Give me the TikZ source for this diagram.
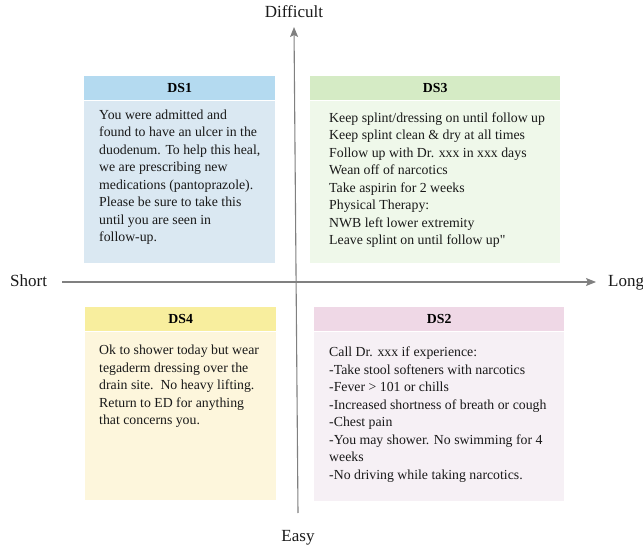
\documentclass[tikz,border=0pt]{standalone}
\usepackage{fontspec}
\setmainfont{Liberation Serif}
\usetikzlibrary{calc}
\usetikzlibrary{arrows.meta}
\definecolor{blueHead}{HTML}{B4DAF0}
\definecolor{blueBody}{HTML}{DAE8F2}
\definecolor{greenHead}{HTML}{D5EBC5}
\definecolor{greenBody}{HTML}{EFF8EA}
\definecolor{yellowHead}{HTML}{F8EE9E}
\definecolor{yellowBody}{HTML}{FDF6DC}
\definecolor{pinkHead}{HTML}{EFD8E6}
\definecolor{pinkBody}{HTML}{F6F0F5}
\definecolor{axisGray}{HTML}{808080}
\newcommand{\Tx}{\fontsize{13.8}{17.5}\selectfont}
\newcommand{\Sq}{{\addfontfeatures{Ligatures=TeXOff}"}}
\tikzset{
  axis/.style={line width=1.1pt, axisGray, -{Stealth[length=10pt,width=8pt,inset=2pt]}},
  axislabel/.style={inner sep=0pt, font=\fontsize{17}{20}\selectfont, text=black!90},
  dshead/.style={anchor=north west, inner sep=0pt, minimum height=24pt, font=\Tx\bfseries, text=black},
  dsbody/.style={anchor=north west, inner sep=0pt},
  dstext/.style={anchor=north west, inner sep=0pt, align=left, font=\Tx, text=black!90},
}

\begin{document}
\begin{tikzpicture}[x=1pt,y=-1pt]
\useasboundingbox (0,0) rectangle (643,548);

%%%%%%%%%%%%%%%%%%%%%%%%%%%%%%%%%%%%%%%%%%%%%%%%%%%%%%%%%%%%%% axes
\coordinate (W) at (62,282);
\coordinate (E) at (596,282);
\coordinate (S) at (298,513);
\coordinate (N) at (294,27);

\draw[axis] (W) -- (E);
\draw[axis] (S) -- (N);

\node[axislabel, anchor=base] (difficult) at (294,18) {Difficult};
\node[axislabel, anchor=base] (easy) at (298,541) {Easy};
\node[axislabel, anchor=base west] (short) at (10,287) {Short};
\node[axislabel, anchor=base west] (long) at (608,287) {Long};

%%%%%%%%%%%%%%%%%%%%%%%%%%%%%%%%%%%%%%%%%%%%%%%%%%%%%%%%%%%%%% DS1
\coordinate (A) at (84,76);

\node[dshead, fill=blueHead, minimum width=191pt] (ds1head) at (A) {DS1};
\node[dsbody, fill=blueBody, minimum width=191pt, minimum height=162pt] (ds1body) at (ds1head.south west) {};
\node[dstext] (ds1text) at ($(ds1body.north west)+(15,9)$) {You were admitted and\\
found to have an ulcer in the\\
duodenum. To help this heal,\\
we are prescribing new\\
medications (pantoprazole).\\
Please be sure to take this\\
until you are seen in\\
follow-up.};

%%%%%%%%%%%%%%%%%%%%%%%%%%%%%%%%%%%%%%%%%%%%%%%%%%%%%%%%%%%%%% DS3
\coordinate (A) at (310,76);

\node[dshead, fill=greenHead, minimum width=250pt] (ds3head) at (A) {DS3};
\node[dsbody, fill=greenBody, minimum width=250pt, minimum height=162pt] (ds3body) at (ds3head.south west) {};
\node[dstext] (ds3text) at ($(ds3body.north west)+(19,12)$) {Keep splint/dressing on until follow up\\
Keep splint clean \& dry at all times\\
Follow up with Dr. xxx in xxx days\\
Wean off of narcotics\\
Take aspirin for 2 weeks\\
Physical Therapy:\\
NWB left lower extremity\\
Leave splint on until follow up\Sq};

%%%%%%%%%%%%%%%%%%%%%%%%%%%%%%%%%%%%%%%%%%%%%%%%%%%%%%%%%%%%%% DS4
\coordinate (A) at (85,307);

\node[dshead, fill=yellowHead, minimum width=191pt] (ds4head) at (A) {DS4};
\node[dsbody, fill=yellowBody, minimum width=191pt, minimum height=168pt] (ds4body) at (ds4head.south west) {};
\node[dstext] (ds4text) at ($(ds4body.north west)+(14,13.5)$) {Ok to shower today but wear\\
tegaderm dressing over the\\
drain site.\ \ No heavy lifting.\\
Return to ED for anything\\
that concerns you.};

%%%%%%%%%%%%%%%%%%%%%%%%%%%%%%%%%%%%%%%%%%%%%%%%%%%%%%%%%%%%%% DS2
\coordinate (A) at (314,307);

\node[dshead, fill=pinkHead, minimum width=250pt] (ds2head) at (A) {DS2};
\node[dsbody, fill=pinkBody, minimum width=250pt, minimum height=169pt] (ds2body) at (ds2head.south west) {};
\node[dstext] (ds2text) at ($(ds2body.north west)+(15,15.5)$) {Call Dr. xxx if experience:\\
-Take stool softeners with narcotics\\
-Fever > 101 or chills\\
-Increased shortness of breath or cough\\
-Chest pain\\
-You may shower. No swimming for 4\\
weeks\\
-No driving while taking narcotics.};

\end{tikzpicture}
\end{document}
